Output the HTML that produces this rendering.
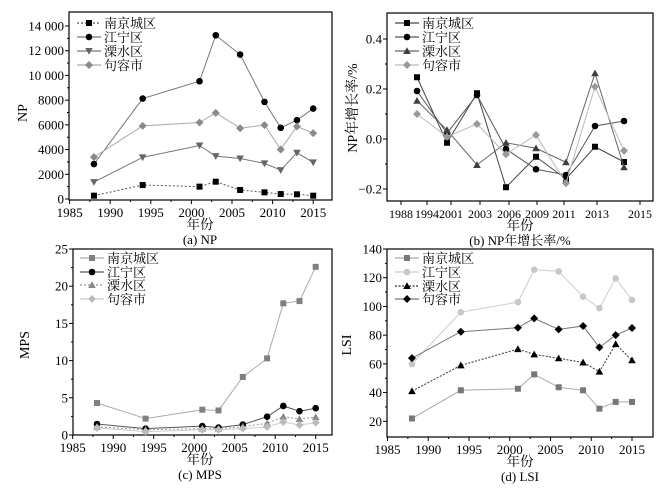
<!DOCTYPE html>
<html><head><meta charset="utf-8"><style>
html,body{margin:0;padding:0;background:#fff}
svg{display:block;font-family:"Liberation Serif","Times New Roman","Noto Serif CJK SC",serif}
</style></head><body>
<svg id="s" width="661" height="490" viewBox="0 0 661 490" xmlns="http://www.w3.org/2000/svg"></svg>
<script>
const S=document.getElementById('s');let h='';
function mk(t,a,txt){let s='<'+t;for(const k in a)s+=' '+k+'="'+a[k]+'"';return s+(txt!==undefined?'>'+txt+'</'+t+'>':'/>');}
function marker(type,x,y,c){
 if(type=='sq')return mk('rect',{x:x-3,y:y-3,width:6,height:6,fill:c});
 if(type=='ci')return mk('circle',{cx:x,cy:y,r:3.3,fill:c});
 if(type=='tu')return mk('polygon',{points:`${x},${y-3.8} ${x-3.8},${y+3} ${x+3.8},${y+3}`,fill:c});
 if(type=='td')return mk('polygon',{points:`${x},${y+3.8} ${x-3.8},${y-3} ${x+3.8},${y-3}`,fill:c});
 if(type=='di')return mk('polygon',{points:`${x},${y-4} ${x+4},${y} ${x},${y+4} ${x-4},${y}`,fill:c});
}
function panel(P){
 const {L,T,R,B}=P;
 h+=mk('rect',{x:L,y:T,width:R-L,height:B-T,fill:'none',stroke:'#000','stroke-width':1.2});
 P.yt.forEach(v=>{const y=P.fy(v);h+=mk('line',{x1:L-4,y1:y,x2:L,y2:y,stroke:'#000'});
  h+=mk('text',{x:L-5,y:y+4.5,'font-size':13,'text-anchor':'end'},P.yl?P.yl(v):v);});
 (P.ym||[]).forEach(v=>{const y=P.fy(v);h+=mk('line',{x1:L-2,y1:y,x2:L,y2:y,stroke:'#000'});});
 P.xt.forEach(([x,l])=>{h+=mk('line',{x1:x,y1:B,x2:x,y2:B+4,stroke:'#000'});
  h+=mk('text',{x:x,y:B+17,'font-size':P.xfs||13,'text-anchor':'middle'},l);});
 (P.xm||[]).forEach(x=>{h+=mk('line',{x1:x,y1:B,x2:x,y2:B+2,stroke:'#000'});});
 P.series.forEach((s,i)=>{
  const pts=s.d.map((v,j)=>[P.xs[j],P.fy(v)]);
  h+=mk('polyline',{points:pts.map(p=>p.join(',')).join(' '),fill:'none',stroke:s.lc,'stroke-width':1,'stroke-dasharray':s.dash||'none'});
  pts.forEach(p=>h+=marker(s.m,p[0],p[1],s.c));
  const ly=P.ly[i];
  h+=mk('line',{x1:P.lx,y1:ly,x2:P.lx+24,y2:ly,stroke:s.lc,'stroke-width':1.2,'stroke-dasharray':s.dash||'none'});
  h+=marker(s.m,P.lx+12,ly,s.c);
  h+=mk('text',{x:P.lx+27,y:ly+5,'font-size':13},s.n);
 });
 h+=mk('text',{x:P.yx,y:P.yy,'font-size':14,'text-anchor':'middle',transform:`rotate(-90 ${P.yx} ${P.yy})`},P.ylab);
 h+=mk('text',{x:P.cx,y:P.B+29,'font-size':13.5,'text-anchor':'middle'},'年份');
 h+=mk('text',{x:P.cx,y:P.B+44,'font-size':13,'text-anchor':'middle'},P.cap);
}
const yrs=[1988,1994,2001,2003,2006,2009,2011,2013,2015];
const N=['南京城区','江宁区','溧水区','句容市'];
{const fx=y=>69.6+8.12*(y-1985);
panel({L:69,T:12,R:332,B:200,fy:v=>199-v*173/14000,yt:[0,2000,4000,6000,8000,10000,12000,14000],
 ym:[1000,3000,5000,7000,9000,11000,13000],
 yl:v=>v>=10000?(''+v).replace(/(\d\d)(\d{3})$/,'$1 $2'):v,
 xt:[1985,1990,1995,2000,2005,2010,2015].map(y=>[fx(y),y]),xm:[1987.5,1992.5,1997.5,2002.5,2007.5,2012.5].map(fx),
 xs:yrs.map(fx),lx:77,ly:[23,37,51,65],
 series:[
 {n:N[0],m:'sq',c:'#000',lc:'#555',dash:'2,2',d:[270,1130,1000,1400,730,540,400,380,270]},
 {n:N[1],m:'ci',c:'#000',lc:'#777',d:[2830,8130,9530,13250,11690,7860,5760,6380,7320]},
 {n:N[2],m:'td',c:'#666',lc:'#777',d:[1370,3370,4330,3470,3280,2880,2340,3740,2960]},
 {n:N[3],m:'di',c:'#8a8a8a',lc:'#aaa',d:[3390,5920,6190,6970,5730,5980,4010,5870,5330]}],
 yx:27,yy:113,ylab:'NP',cx:200,cap:'(a) NP'});}
{const xs=[417,447,477,506,536,566,595,624];
panel({L:387,T:13,R:653,B:201,fy:v=>139-v*250,yt:[-0.2,0,0.2,0.4],ym:[-0.1,0.1,0.3],yl:v=>v==0?'0.0':(v<0?'−':'')+Math.abs(v).toFixed(1),
 xfs:12,xt:[[401,1988],[427,1994],[451,2001],[480,2003],[509,2006],[537,2009],[564,2011],[597,2013],[640,2015]],
 xs:xs,lx:395,ly:[23,37,51,65],
 series:[
 {n:N[0],m:'sq',c:'#000',lc:'#444',d:[0.247,-0.015,0.183,-0.193,-0.071,-0.16,-0.031,-0.092]},
 {n:N[1],m:'ci',c:'#000',lc:'#555',d:[0.192,0.023,0.176,-0.04,-0.121,-0.144,0.052,0.072]},
 {n:N[2],m:'tu',c:'#3a4048',lc:'#666',d:[0.153,0.036,-0.104,-0.015,-0.037,-0.093,0.263,-0.113]},
 {n:N[3],m:'di',c:'#999',lc:'#bbb',d:[0.1,0.009,0.06,-0.061,0.016,-0.177,0.209,-0.047]}],
 yx:357,yy:108,ylab:'NP年增长率/%',cx:520,cap:'(b) NP年增长率/%'});}
{const fx=y=>72.7+8.1*(y-1985);
panel({L:73,T:249,R:332,B:435,fy:v=>435-v*7.44,yt:[0,5,10,15,20,25],ym:[2.5,7.5,12.5,17.5,22.5],
 xt:[1985,1990,1995,2000,2005,2010,2015].map(y=>[fx(y),y]),xm:[1987.5,1992.5,1997.5,2002.5,2007.5,2012.5].map(fx),
 xs:yrs.map(fx),lx:80,ly:[258,272,285,299],
 series:[
 {n:N[0],m:'sq',c:'#808080',lc:'#aaa',d:[4.3,2.2,3.4,3.3,7.8,10.3,17.7,18.0,22.6]},
 {n:N[1],m:'ci',c:'#000',lc:'#555',d:[1.48,0.85,1.2,1.0,1.4,2.46,3.9,3.2,3.6]},
 {n:N[2],m:'tu',c:'#888',lc:'#999',dash:'2,2',d:[1.1,0.7,0.85,0.85,1.1,1.57,2.46,2.15,2.4]},
 {n:N[3],m:'di',c:'#bbb',lc:'#ccc',d:[0.95,0.45,0.7,0.7,0.85,1.1,1.75,1.35,1.66]}],
 yx:29,yy:345,ylab:'MPS',cx:200,cap:'(c) MPS'});}
{const fx=y=>387.5+8.15*(y-1985);
panel({L:387,T:249,R:653,B:437,fy:v=>249+(140-v)*1.436,yt:[20,40,60,80,100,120,140],ym:[30,50,70,90,110,130],
 xt:[1985,1990,1995,2000,2005,2010,2015].map(y=>[fx(y),y]),xm:[1987.5,1992.5,1997.5,2002.5,2007.5,2012.5].map(fx),
 xs:yrs.map(fx),lx:395,ly:[258,272,286,299],
 series:[
 {n:N[0],m:'sq',c:'#777',lc:'#aaa',d:[22,41.6,42.7,52.7,43.7,41.6,28.8,33.5,33.5]},
 {n:N[1],m:'ci',c:'#c8c8c8',lc:'#ccc',d:[59.9,96,103,125.6,124.4,106.8,98.9,119.5,104.5]},
 {n:N[2],m:'tu',c:'#000',lc:'#333',dash:'2,1.5',d:[41,59,70.3,66.6,63.9,61,54.6,73.8,62.5]},
 {n:N[3],m:'di',c:'#000',lc:'#777',d:[64,82.4,85.2,91.7,84,86.4,71.5,80,85]}],
 yx:351,yy:345,ylab:'LSI',cx:520,cap:'(d) LSI'});}
S.innerHTML=h;
</script>
</body></html>
